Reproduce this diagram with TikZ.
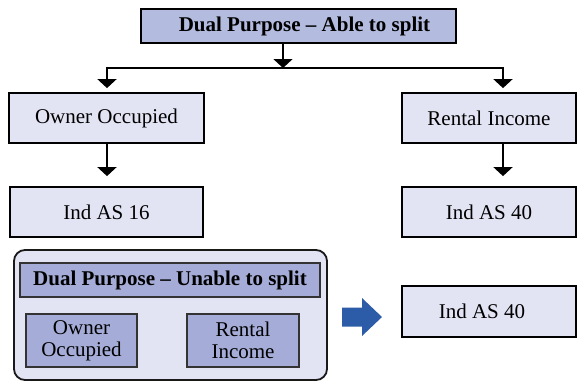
\documentclass[tikz,border=0pt]{standalone}
\usepackage{fontspec}
\setmainfont{Liberation Serif}
\usetikzlibrary{arrows.meta}
\definecolor{topfill}{HTML}{B3BBDF}
\definecolor{lightfill}{HTML}{E2E4F4}
\definecolor{midfill}{HTML}{A4ACD7}
\definecolor{bluearrow}{HTML}{2C5BA7}
\tikzset{
  txt/.style={font=\fontsize{21}{22}\selectfont},
  box/.style={txt, draw=black, line width=1.8pt, fill=lightfill, inner sep=0pt, align=center},
  topbox/.style={box, fill=topfill, font=\fontsize{21}{22}\selectfont\bfseries},
  inbox/.style={txt, draw=black!80, line width=1.2pt, fill=midfill, inner sep=0pt, align=center},
  groupbox/.style={draw=black!90, line width=1.8pt, fill=lightfill, rounded corners=11pt, inner sep=0pt},
  conn/.style={line width=1.8pt, draw=black},
  arr/.style={conn, -{Triangle[width=19pt,length=9pt]}},
}
\begin{document}
\begin{tikzpicture}[x=1pt,y=-1pt]
\useasboundingbox (0,0) rectangle (577,381);
% top level
\node[topbox, minimum width=315pt, minimum height=34pt] (top) at (298.5,26) {\hspace*{12pt}Dual Purpose – Able to split};
\node[box, minimum width=195pt, minimum height=50pt] (own) at (106.5,118) {Owner Occupied};
\node[box, minimum width=174pt, minimum height=50pt] (ren) at (489,118) {Rental Income};
\node[box, minimum width=193pt, minimum height=50pt] (ind16) at (106.5,212) {Ind AS 16};
\node[box, minimum width=174pt, minimum height=50pt] (ind40a) at (489,212) {Ind AS 40};
% connectors
\coordinate (j) at (283,68);
\coordinate (jl) at (107,68);
\coordinate (jr) at (503,68);
\draw[arr] (top.south -| j) -- (j);
\draw[arr, shorten >=4pt] (jr) -- (jl) -- (own.north -| jl);
\draw[arr, shorten >=4pt] (jl) -- (jr) -- (ren.north -| jr);
\draw[arr, shorten >=10pt] (own.south -| jl) -- (ind16.north -| jl);
\draw[arr, shorten >=10pt] (ren.south -| jr) -- (ind40a.north -| jr);
% lower group
\node[groupbox, minimum width=313pt, minimum height=130pt] (grp) at (170.5,315) {};
\node[inbox, font=\fontsize{21}{22}\selectfont\bfseries, minimum width=300pt, minimum height=34pt] (ttl) at (170,280) {Dual Purpose – Unable to split};
\node[inbox, minimum width=111pt, minimum height=53pt] (sown) at (81.5,340.5) {Owner\\Occupied};
\node[inbox, minimum width=112pt, minimum height=53pt] (sren) at (243,340.5) {Rental\\Income};
\node[box, minimum width=174pt, minimum height=51pt] (ind40b) at (489,311.5) {\hspace*{-14pt}Ind AS 40};
% block arrow
\fill[bluearrow] (342,307.5) -- (362,307.5) -- (362,298) -- (382,317) -- (362,336) -- (362,326.5) -- (342,326.5) -- cycle;
\end{tikzpicture}
\end{document}
